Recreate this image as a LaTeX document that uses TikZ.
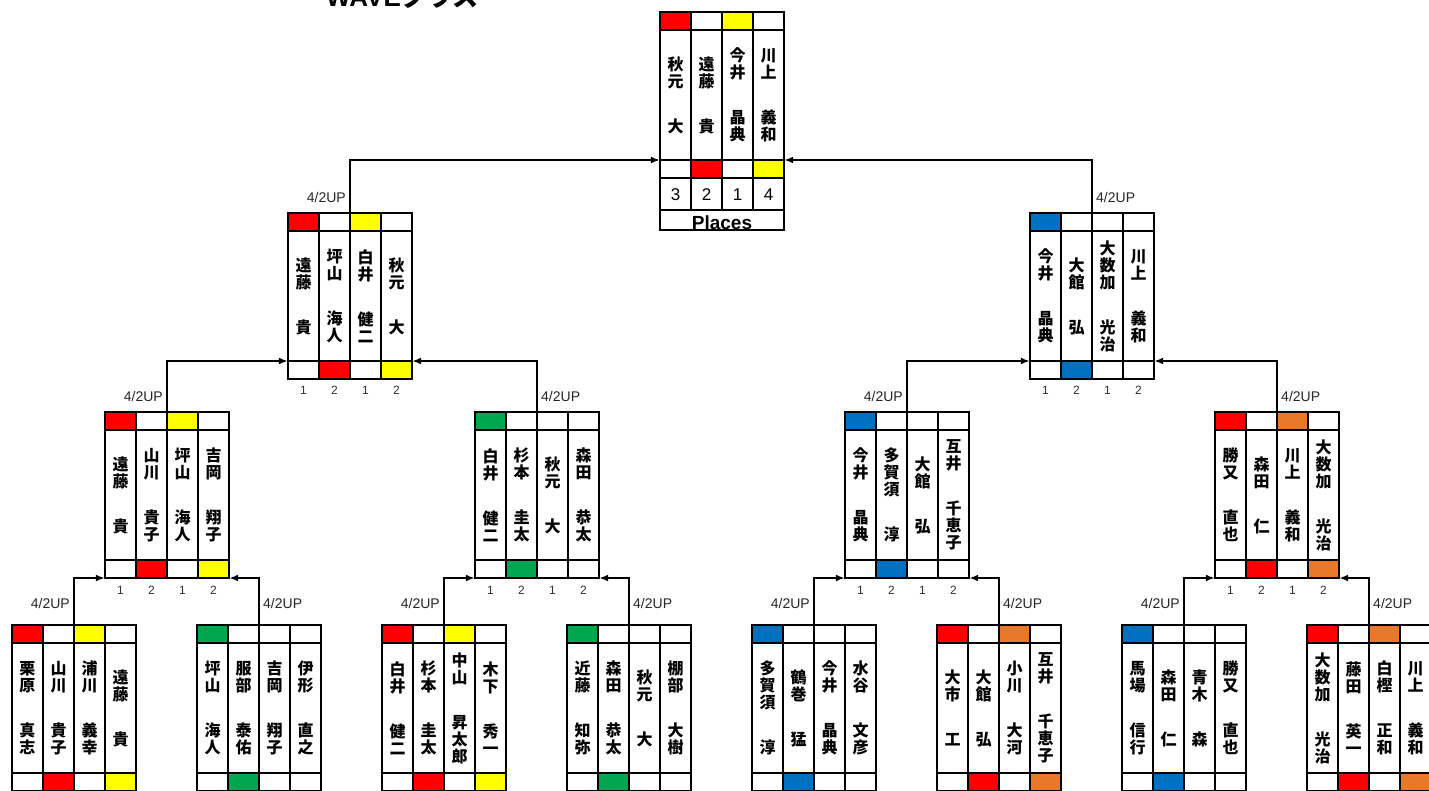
\documentclass[tikz,border=0pt]{standalone}
\usepackage{fontspec}
\setmainfont{Liberation Sans}
\newfontfamily\jp{Noto Sans CJK JP}
\usetikzlibrary{arrows.meta,calc}
\definecolor{cr}{HTML}{FF0000}
\definecolor{cy}{HTML}{FFFF00}
\definecolor{cg}{HTML}{00A650}
\definecolor{cb}{HTML}{0070C0}
\definecolor{co}{HTML}{E8792A}
\tikzset{
  cell/.style={draw=black,line width=2.1pt},
  thick cell/.style={draw=black,line width=2.8pt},
  nm/.style={inner sep=0pt,text width=31pt,align=center,font=\jp\bfseries\fontsize{16}{17}\selectfont},
  conn/.style={draw=black,line width=1.9pt,-{Latex[length=9pt,width=7pt]}},
  uplbl/.style={inner sep=0pt,text=black!85,font=\fontsize{14}{14}\selectfont},
  numlbl/.style={inner sep=0pt,text=black!80,font=\fontsize{12}{12}\selectfont},
  boxarea/.style={inner sep=0pt,minimum width=124pt,minimum height=166pt,anchor=north},
}
\newcommand\tbox[5]{%
  \node[boxarea] (#1) at (#2,#3) {};
  \coordinate (#1-in) at (#2,#3+#4);
  \foreach[count=\i] \tc/\sn/\gn/\bc in {#5}{%
    \pgfmathsetmacro\xl{#2-62+(\i-1)*31}%
    \path[cell,fill=\tc] (\xl,#3) rectangle ++(31,18);
    \path[cell] (\xl,#3+18) rectangle ++(31,130);
    \path[cell,fill=\bc] (\xl,#3+148) rectangle ++(31,18);
    \node[nm] (#1-n\i) at (\xl+15.5,#3+83) {\sn\\[28pt]\gn};
  }%
}
% thicker outline on one colour cell: box centre, top, column, 0=top row / 148=bottom row
\newcommand\tcell[4]{\path[thick cell] (#1-93+#3*31,#2+#4) rectangle ++(31,18);}
\newcommand\nums[3]{%
  \foreach[count=\i] \d in {1,2,1,2}{%
    \node[numlbl] (#1-d\i) at (#2-46.5+\i*31-31,#3) {\d};
  }%
}
\begin{document}
\begin{tikzpicture}[x=1pt,y=-1pt]
\useasboundingbox (0,0) rectangle (1429,791);
\clip (0,0) rectangle (1429,791);
\fill[white] (0,0) rectangle (1429,791);

\node[anchor=base west,inner sep=0pt,font=\bfseries\fontsize{26}{26}\selectfont] (title) at (326,7) {WAVE{\jp\bfseries クラス}};

% final
\tbox{fin}{722}{12}{148}{cr/秋\\元/大/white, white/遠\\藤/貴/cr, cy/今\\井/晶\\典/white, white/川\\上/義\\和/cy}
\foreach[count=\i] \p in {3,2,1,4}{%
  \path[cell] (660+\i*31-31,178) rectangle ++(31,32);
  \node[inner sep=0pt,font=\fontsize{17}{17}\selectfont] (fin-p\i) at (660+\i*31-15.5,195) {\p};
}
\path[cell] (660,210) rectangle (784,230);
\node[inner sep=0pt,font=\bfseries\fontsize{19}{19}\selectfont] (places) at (722,223) {Places};

% semifinals
\tbox{sfL}{350}{213}{148}{cr/遠\\藤/貴/white, white/坪\\山/海\\人/cr, cy/白\\井/健\\二/white, white/秋\\元/大/cy}
\tbox{sfR}{1092}{213}{148}{cb/今\\井/晶\\典/white, white/大\\館/弘/cb, white/大\\数\\加/光\\治/white, white/川\\上/義\\和/white}
\tcell{1092}{213}{3}{0}
\nums{sfL}{350}{390}
\nums{sfR}{1092}{390}

% quarterfinals
\tbox{qf1}{167}{412}{166}{cr/遠\\藤/貴/white, white/山\\川/貴\\子/cr, cy/坪\\山/海\\人/white, white/吉\\岡/翔\\子/cy}
\tbox{qf2}{537}{412}{166}{cg/白\\井/健\\二/white, white/杉\\本/圭\\太/cg, white/秋\\元/大/white, white/森\\田/恭\\太/white}
\tbox{qf3}{907}{412}{166}{cb/今\\井/晶\\典/white, white/多\\賀\\須/淳/cb, white/大\\館/弘/white, white/互\\井/千\\恵\\子/white}
\tbox{qf4}{1277}{412}{166}{cr/勝\\又/直\\也/white, white/森\\田/仁/cr, co/川\\上/義\\和/white, white/大\\数\\加/光\\治/co}
\tcell{537}{412}{3}{0}
\tcell{537}{412}{4}{148}
\tcell{907}{412}{3}{0}
\tcell{907}{412}{4}{148}
\nums{qf1}{167}{590}
\nums{qf2}{537}{590}
\nums{qf3}{907}{590}
\nums{qf4}{1277}{590}

% first round
\tbox{b1}{74}{625}{148}{cr/栗\\原/真\\志/white, white/山\\川/貴\\子/cr, cy/浦\\川/義\\幸/white, white/遠\\藤/貴/cy}
\tbox{b2}{259}{625}{148}{cg/坪\\山/海\\人/white, white/服\\部/泰\\佑/cg, white/吉\\岡/翔\\子/white, white/伊\\形/直\\之/white}
\tbox{b3}{444}{625}{148}{cr/白\\井/健\\二/white, white/杉\\本/圭\\太/cr, cy/中\\山/昇\\太\\郎/white, white/木\\下/秀\\一/cy}
\tbox{b4}{629}{625}{148}{cg/近\\藤/知\\弥/white, white/森\\田/恭\\太/cg, white/秋\\元/大/white, white/棚\\部/大\\樹/white}
\tbox{b5}{814}{625}{148}{cb/多\\賀\\須/淳/white, white/鶴\\巻/猛/cb, white/今\\井/晶\\典/white, white/水\\谷/文\\彦/white}
\tbox{b6}{999}{625}{148}{cr/大\\市/工/white, white/大\\館/弘/cr, co/小\\川/大\\河/white, white/互\\井/千\\恵\\子/co}
\tbox{b7}{1184}{625}{148}{cb/馬\\場/信\\行/white, white/森\\田/仁/cb, white/青\\木/森/white, white/勝\\又/直\\也/white}
\tbox{b8}{1369}{625}{148}{cr/大\\数\\加/光\\治/white, white/藤\\田/英\\一/cr, co/白\\樫/正\\和/white, white/川\\上/義\\和/co}
\tcell{814}{625}{3}{0}
\tcell{1184}{625}{3}{0}

% connectors
\draw[conn] (sfL.north) |- (fin.west |- fin-in);
\draw[conn] (sfR.north) |- (fin.east |- fin-in);
\draw[conn] (qf1.north) |- (sfL.west |- sfL-in);
\draw[conn] (qf2.north) |- (sfL.east |- sfL-in);
\draw[conn] (qf3.north) |- (sfR.west |- sfR-in);
\draw[conn] (qf4.north) |- (sfR.east |- sfR-in);
\draw[conn] (b1.north) |- (qf1.west |- qf1-in);
\draw[conn] (b2.north) |- (qf1.east |- qf1-in);
\draw[conn] (b3.north) |- (qf2.west |- qf2-in);
\draw[conn] (b4.north) |- (qf2.east |- qf2-in);
\draw[conn] (b5.north) |- (qf3.west |- qf3-in);
\draw[conn] (b6.north) |- (qf3.east |- qf3-in);
\draw[conn] (b7.north) |- (qf4.west |- qf4-in);
\draw[conn] (b8.north) |- (qf4.east |- qf4-in);

% labels
\foreach \b in {sfL,qf1,qf3}{\node[uplbl,anchor=east] (lab-\b) at ($(\b.north)+(-4,-16)$) {4/2UP};}
\foreach \b in {sfR,qf2,qf4}{\node[uplbl,anchor=west] (lab-\b) at ($(\b.north)+(4,-16)$) {4/2UP};}
\foreach \b in {b1,b3,b5,b7}{\node[uplbl,anchor=east] (lab-\b) at ($(\b.north)+(-4,-22)$) {4/2UP};}
\foreach \b in {b2,b4,b6,b8}{\node[uplbl,anchor=west] (lab-\b) at ($(\b.north)+(4,-22)$) {4/2UP};}
\end{tikzpicture}
\end{document}
